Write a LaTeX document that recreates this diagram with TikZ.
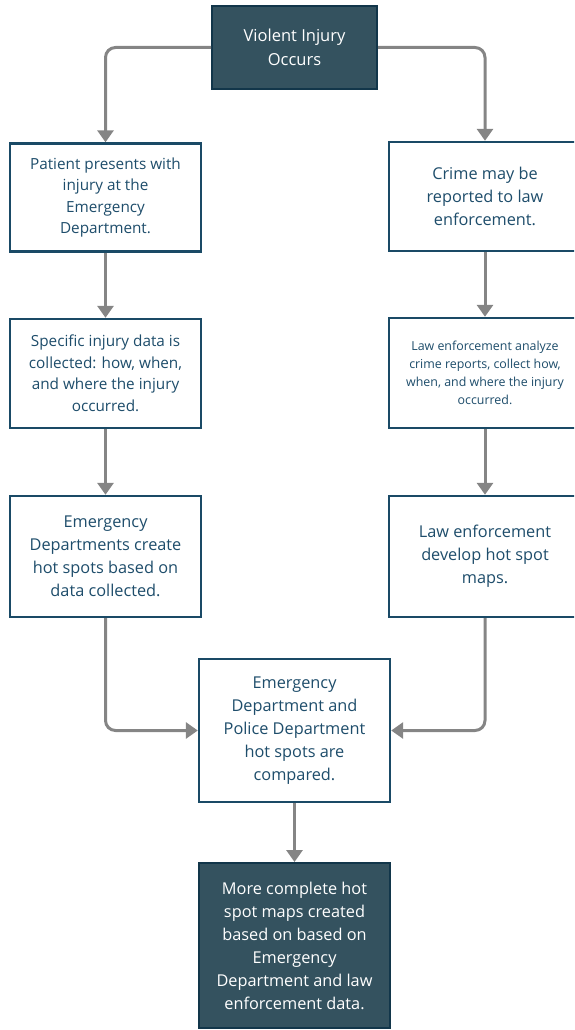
\documentclass[tikz,border=0pt]{standalone}
\usepackage{fontspec}
\setmainfont{Open Sans}
\usetikzlibrary{arrows.meta}
\definecolor{txtblue}{HTML}{1E4D6B}
\definecolor{bordblue}{HTML}{1A4A66}
\definecolor{darkfill}{HTML}{34525F}
\definecolor{darkbord}{HTML}{12364A}
\definecolor{arrgray}{HTML}{858585}
\tikzset{
  lightbox/.style={draw=bordblue, line width=2.4pt, fill=white, text=txtblue, align=center, inner sep=0pt, font=\fontsize{16.3}{23}\selectfont},
  smallfont/.style={font=\fontsize{15.3}{21.5}\selectfont},
  darkbox/.style={draw=darkbord, line width=2pt, fill=darkfill, text=white, align=center, inner sep=0pt, font=\fontsize{16.3}{23}\selectfont},
  conn/.style={draw=arrgray, line width=3pt, rounded corners=10pt, -{Triangle[width=16pt,length=12pt]}}
}
\begin{document}
\begin{tikzpicture}[x=1pt,y=-1pt]
\useasboundingbox (0,0) rectangle (574,1030);
\begin{scope}
\clip (0,0) rectangle (574,1030);
\node[darkbox, minimum width=165pt, minimum height=83pt, font=\fontsize{16.5}{24.5}\selectfont] (top) at (294.5,47.5) {Violent Injury\\Occurs};
\node[lightbox, smallfont, minimum width=191pt, minimum height=108pt] (l1) at (105.5,197.5) {Patient presents with\\injury at the\\Emergency\\Department.};
\node[lightbox, minimum width=192pt, minimum height=109pt] (r1) at (485,196.5) {Crime may be\\reported to law\\enforcement.};
\node[lightbox, smallfont, minimum width=191pt, minimum height=109pt] (l2) at (105.5,373.5) {Specific injury data is\\collected: how, when,\\and where the injury\\occurred.};
\node[lightbox, minimum width=192pt, minimum height=110pt, font=\fontsize{12.4}{18.2}\selectfont] (r2) at (485,373) {Law enforcement analyze\\crime reports, collect how,\\when, and where the injury\\occurred.};
\node[lightbox, minimum width=191pt, minimum height=121pt] (l3) at (105.5,556.5) {Emergency\\Departments create\\hot spots based on\\data collected.};
\node[lightbox, minimum width=192pt, minimum height=121pt] (r3) at (485,556.5) {Law enforcement\\develop hot spot\\maps.};
\node[lightbox, minimum width=191pt, minimum height=143pt] (mid) at (294.5,730.5) {Emergency\\Department and\\Police Department\\hot spots are\\compared.};
\node[darkbox, minimum width=191pt, minimum height=165pt] (bot) at (294.5,945.5) {More complete hot\\spot maps created\\based on based on\\Emergency\\Department and law\\enforcement data.};
\end{scope}
\path[conn] (top.west) -| (l1.north);
\path[conn] (top.east) -| (r1.north);
\path[conn] (l1.south) -- (l2.north);
\path[conn] (r1.south) -- (r2.north);
\path[conn] (l2.south) -- (l3.north);
\path[conn] (r2.south) -- (r3.north);
\path[conn] (l3.south) |- (mid.west);
\path[conn] (r3.south) |- (mid.east);
\path[conn] (mid.south) -- (bot.north);
\end{tikzpicture}
\end{document}
